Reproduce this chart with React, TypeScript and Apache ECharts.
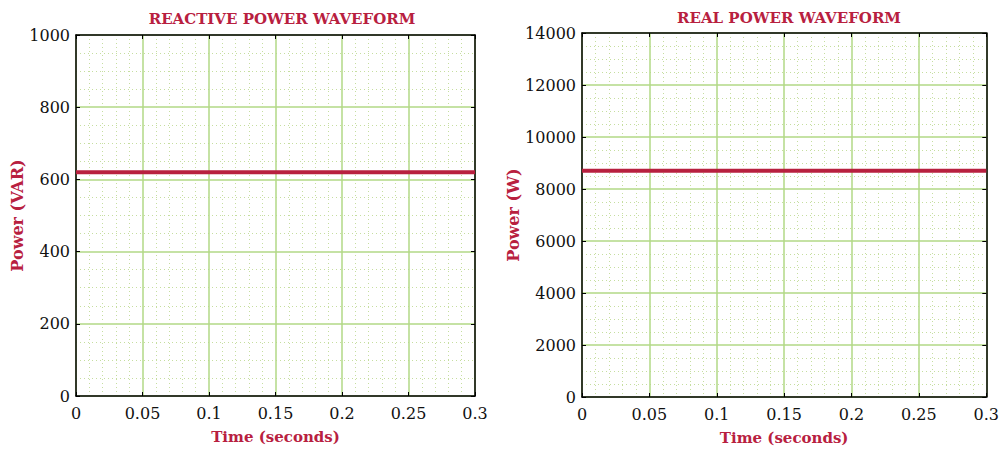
import React, { useEffect, useRef } from "react";
import * as echarts from "echarts";

const timeValues = [0, 0.05, 0.1, 0.15, 0.2, 0.25, 0.3];
const reactivePower = [620, 620, 620, 620, 620, 620, 620];
const realPower = [8700, 8700, 8700, 8700, 8700, 8700, 8700];
const titles = ["REACTIVE POWER WAVEFORM", "REAL POWER WAVEFORM"];
const yNames = ["Power (VAR)", "Power (W)"];
const xName = "Time (seconds)";

const CRIMSON = "#b8203f";
const SERIF = "'DejaVu Serif', 'Liberation Serif', serif";
const MAJOR = "#b2d986";
const MINOR = "#c6dea0";

export default function App() {
  const ref = useRef<HTMLDivElement>(null);
  useEffect(() => {
    if (!ref.current) return;
    const chart = echarts.init(ref.current, undefined, { renderer: "svg" });
    const grids = [
      { left: 76, top: 35, width: 399, height: 361 },
      { left: 582, top: 33, width: 406, height: 364 },
    ];
    const yCfg = [
      { max: 1000, interval: 200, gap: 46 },
      { max: 14000, interval: 2000, gap: 57 },
    ];
    const xAxes: any[] = [];
    const yAxes: any[] = [];
    grids.forEach((_, i) => {
      const baseX = {
        type: "value",
        gridIndex: i,
        min: 0,
        max: 0.3,
        interval: 0.05,
        axisLine: { show: true, onZero: false, lineStyle: { color: "#000", width: 1.5 } },
        axisTick: { show: true, inside: true, length: 4, lineStyle: { color: "#000" } },
      };
      xAxes.push({
        ...baseX,
        position: "bottom",
        name: xName,
        nameLocation: "middle",
        nameGap: 33,
        nameTextStyle: { color: CRIMSON, fontFamily: SERIF, fontWeight: "bold", fontSize: 15 },
        axisLabel: { color: "#111", fontFamily: SERIF, fontSize: 16, margin: 9, formatter: (v: number) => String(v) },
        splitLine: { show: true, lineStyle: { color: MAJOR, width: 1.5 } },
        minorTick: { show: false, splitNumber: 5 },
        minorSplitLine: { show: true, lineStyle: { color: MINOR, type: [1, 3], width: 1 } },
      });
      xAxes.push({
        ...baseX,
        position: "top",
        axisLabel: { show: false },
        splitLine: { show: false },
        minorSplitLine: { show: false },
      });
      const baseY = {
        type: "value",
        gridIndex: i,
        min: 0,
        max: yCfg[i].max,
        interval: yCfg[i].interval,
        axisLine: { show: true, onZero: false, lineStyle: { color: "#000", width: 1.5 } },
        axisTick: { show: true, inside: true, length: 4, lineStyle: { color: "#000" } },
      };
      yAxes.push({
        ...baseY,
        position: "left",
        name: yNames[i],
        nameLocation: "middle",
        nameGap: yCfg[i].gap,
        nameTextStyle: { color: CRIMSON, fontFamily: SERIF, fontWeight: "bold", fontSize: 16 },
        axisLabel: { color: "#111", fontFamily: SERIF, fontSize: 16, margin: 6, formatter: (v: number) => String(v) },
        splitLine: { show: true, lineStyle: { color: MAJOR, width: 1.5 } },
        minorTick: { show: false, splitNumber: 4 },
        minorSplitLine: { show: true, lineStyle: { color: MINOR, type: [1, 3], width: 1 } },
      });
      yAxes.push({
        ...baseY,
        position: "right",
        axisLabel: { show: false },
        splitLine: { show: false },
        minorSplitLine: { show: false },
      });
    });
    chart.setOption({
      animation: false,
      backgroundColor: "#fff",
      title: [
        {
          text: titles[0],
          left: 277,
          top: 6,
          textAlign: "center",
          textStyle: { color: CRIMSON, fontFamily: SERIF, fontWeight: "bold", fontSize: 15 },
        },
        {
          text: titles[1],
          left: 784,
          top: 5,
          textAlign: "center",
          textStyle: { color: CRIMSON, fontFamily: SERIF, fontWeight: "bold", fontSize: 15 },
        },
      ],
      grid: grids.map((g) => ({ ...g, containLabel: false })),
      xAxis: xAxes,
      yAxis: yAxes,
      series: [
        {
          type: "line",
          xAxisIndex: 0,
          yAxisIndex: 0,
          data: timeValues.map((t, k) => [t, reactivePower[k]]),
          showSymbol: false,
          lineStyle: { color: CRIMSON, width: 4 },
        },
        {
          type: "line",
          xAxisIndex: 2,
          yAxisIndex: 2,
          data: timeValues.map((t, k) => [t, realPower[k]]),
          showSymbol: false,
          lineStyle: { color: CRIMSON, width: 4 },
        },
      ],
    });
    return () => chart.dispose();
  }, []);
  return (
    <div
      ref={ref}
      style={{ position: "fixed", left: 0, top: 0, width: 1002, height: 452, background: "#fff" }}
    />
  );
}
